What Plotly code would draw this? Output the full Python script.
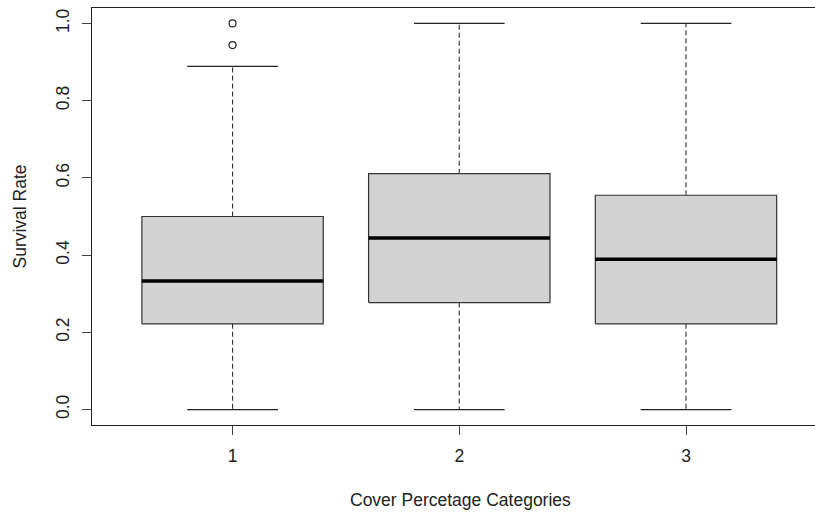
import plotly.graph_objects as go

# Summary statistics per cover-percentage category
categories = [1, 2, 3]
lower_whisker = [0.0, 0.0, 0.0]
q1 = [0.222, 0.277, 0.222]
median = [0.333, 0.444, 0.389]
q3 = [0.500, 0.611, 0.555]
upper_whisker = [0.889, 1.0, 1.0]
outliers = [[0.944, 1.0], [], []]

y_ticks = [0.0, 0.2, 0.4, 0.6, 0.8, 1.0]
y_tick_text = ["0.0", "0.2", "0.4", "0.6", "0.8", "1.0"]

BOX_HALF = 0.4
CAP_HALF = 0.2
EDGE = "#333333"
FILL = "#D3D3D3"
FONT = "Liberation Sans, Arial, sans-serif"

fig = go.Figure()

for i, c in enumerate(categories):
    # dashed whiskers
    for a, b in ((q3[i], upper_whisker[i]), (q1[i], lower_whisker[i])):
        fig.add_trace(go.Scatter(
            x=[c, c], y=[a, b], mode="lines",
            line=dict(color=EDGE, width=1.1, dash="5px,3px"),
            hoverinfo="skip", showlegend=False))
    # whisker caps
    for v in (upper_whisker[i], lower_whisker[i]):
        fig.add_trace(go.Scatter(
            x=[c - CAP_HALF, c + CAP_HALF], y=[v, v], mode="lines",
            line=dict(color="#222222", width=1.2),
            hoverinfo="skip", showlegend=False))
    # box
    fig.add_trace(go.Scatter(
        x=[c - BOX_HALF, c + BOX_HALF, c + BOX_HALF, c - BOX_HALF, c - BOX_HALF],
        y=[q1[i], q1[i], q3[i], q3[i], q1[i]],
        mode="lines", fill="toself", fillcolor=FILL,
        line=dict(color=EDGE, width=1.2),
        hoverinfo="skip", showlegend=False))
    # median
    fig.add_trace(go.Scatter(
        x=[c - BOX_HALF, c + BOX_HALF], y=[median[i], median[i]], mode="lines",
        line=dict(color="#000000", width=3.5),
        hoverinfo="skip", showlegend=False))
    # outliers
    if outliers[i]:
        fig.add_trace(go.Scatter(
            x=[c] * len(outliers[i]), y=outliers[i], mode="markers",
            marker=dict(symbol="circle-open", size=7, color="#222222",
                        line=dict(width=1.2)),
            hoverinfo="skip", showlegend=False))

fig.update_layout(
    width=815, height=512,
    margin=dict(l=92, r=0, t=8, b=87),
    paper_bgcolor="white", plot_bgcolor="white",
    font=dict(family=FONT, size=17.5, color="#222222"),
    xaxis=dict(
        range=[0.38, 3.569], tickvals=categories,
        ticktext=[str(c) for c in categories],
        showgrid=False, zeroline=False,
        showline=True, linecolor="#222222", linewidth=1.2, mirror=True,
        ticks="outside", ticklen=9, tickcolor="#444444",
        ticklabelstandoff=6,
    ),
    yaxis=dict(
        range=[-0.04, 1.04], tickvals=y_ticks, ticktext=y_tick_text,
        tickangle=-90,
        showgrid=False, zeroline=False,
        showline=True, linecolor="#222222", linewidth=1.2, mirror=False,
        ticks="outside", ticklen=9, tickcolor="#444444",
        ticklabelstandoff=6,
    ),
    annotations=[
        dict(text="Cover Percetage Categories", xref="paper", yref="paper",
             x=0.5, y=0, xanchor="center", yanchor="middle", yshift=-75,
             xshift=7, showarrow=False, font=dict(size=17.5, color="#222222")),
        dict(text="Survival Rate", xref="paper", yref="paper",
             x=0, y=0.5, xanchor="center", yanchor="middle", xshift=-73,
             textangle=-90, showarrow=False,
             font=dict(size=17.5, color="#222222")),
    ],
)

fig.write_html("out.html")
